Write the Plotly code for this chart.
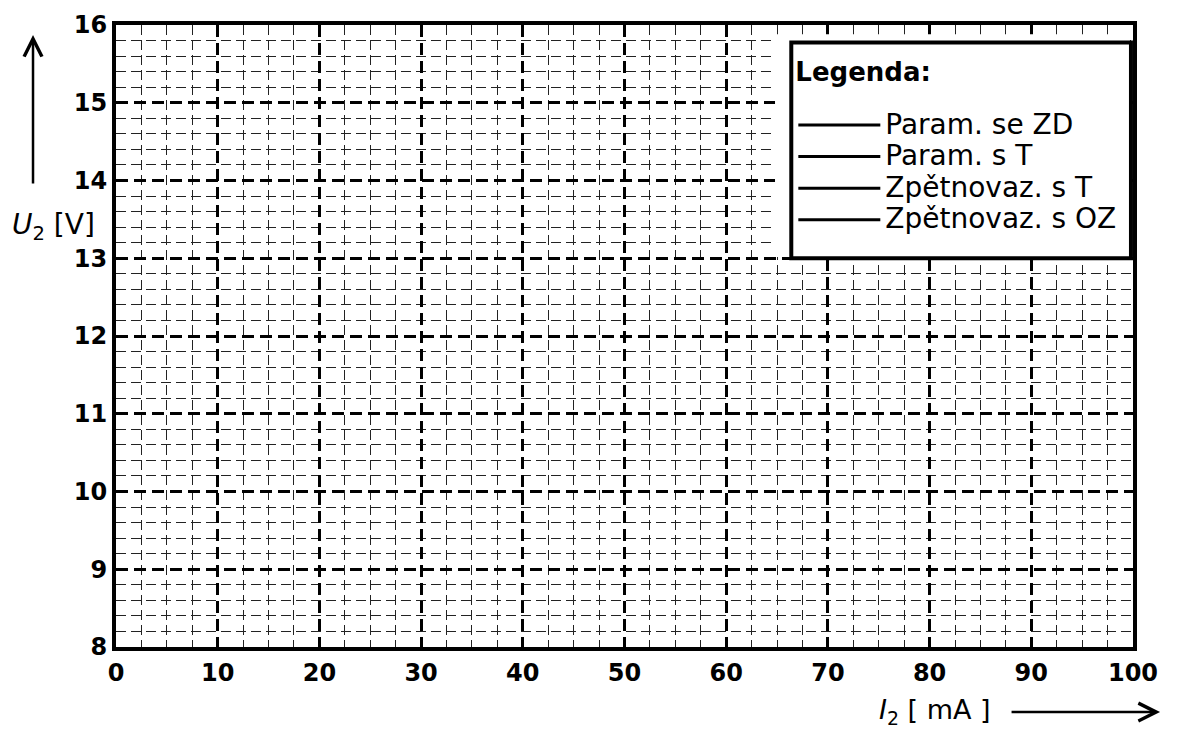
import plotly.graph_objects as go

# ---- data (empty measurement sheet) ----
x_range = [0, 100]          # I2 [mA]
y_range = [8, 16]           # U2 [V]
x_major_step = 10
x_minor_step = 2.5
y_major_step = 1
y_minor_step = 0.2
series_names = ["Param. se ZD", "Param. s T", "Zpětnovaz. s T", "Zpětnovaz. s OZ"]
series_x = [[None], [None], [None], [None]]   # no measured points yet
series_y = [[None], [None], [None], [None]]
legend_title = "Legenda:"
x_title = "<i>I</i><sub>2</sub> [ mA ]"
y_title = "<i>U</i><sub>2</sub> [V]"

FONT = "DejaVu Sans"

fig = go.Figure()
for name, xs, ys in zip(series_names, series_x, series_y):
    fig.add_trace(go.Scatter(x=xs, y=ys, mode="lines",
                             name='<span style="font-size:28px">' + name + '</span>',
                             line=dict(color="black", width=3)))

axis_common = dict(
    showline=True, linecolor="black", linewidth=4, mirror=True,
    zeroline=False, ticks="", automargin=False,
    showgrid=True, gridcolor="black", gridwidth=3, griddash="12px,6px",
    tickfont=dict(family=FONT, size=24, color="black", weight="bold"),
)

fig.update_xaxes(range=x_range, tick0=0, dtick=x_major_step,
                 minor=dict(dtick=x_minor_step, tick0=0, showgrid=True,
                            gridcolor="#222222", gridwidth=1, griddash="10px,5px"),
                 ticklabelstandoff=1, **axis_common)
fig.update_yaxes(range=y_range, tick0=8, dtick=y_major_step,
                 minor=dict(dtick=y_minor_step, tick0=8, showgrid=True,
                            gridcolor="#222222", gridwidth=1, griddash="10px,5px"),
                 ticklabelstandoff=0, **axis_common)

# white clearing behind the legend, and the legend frame
fig.add_shape(type="rect", xref="paper", yref="paper",
              x0=0.648, x1=0.997, y0=0.627, y1=0.985,
              fillcolor="white", line=dict(width=0), layer="above")
fig.add_shape(type="rect", xref="paper", yref="paper",
              x0=0.664, x1=0.998, y0=0.625, y1=0.972,
              fillcolor="white", line=dict(color="black", width=4), layer="above")

fig.update_layout(
    width=1174, height=725,
    margin=dict(l=108, r=49, t=17, b=86),
    paper_bgcolor="white", plot_bgcolor="white",
    font=dict(family=FONT, size=26, color="black"),
    showlegend=True,
    legend=dict(
        x=0.666, y=0.948, xanchor="left", yanchor="top",
        bgcolor="rgba(0,0,0,0)", borderwidth=0,
        font=dict(family=FONT, size=22, color="black"),
        title=dict(text='<span style="font-size:26px"><b>' + legend_title
                        + '</b></span><br> ',
                   font=dict(family=FONT, size=18, color="black")),
        itemwidth=82,
    ),
    annotations=[
        dict(text=y_title, xref="paper", yref="paper", x=-0.061, y=0.676,
             xanchor="center", yanchor="middle", showarrow=False,
             font=dict(family=FONT, size=28, color="black")),
        dict(text="", xref="paper", yref="paper", x=-0.0816, y=0.984,
             ax=0, ay=150, showarrow=True, arrowhead=5, arrowsize=1.4,
             arrowwidth=2.5, arrowcolor="black"),
        dict(text=x_title, xref="paper", yref="paper", x=0.805, y=-0.103,
             xanchor="center", yanchor="middle", showarrow=False,
             font=dict(family=FONT, size=27, color="black")),
        dict(text="", xref="paper", yref="paper", x=1.0266, y=-0.1047,
             ax=-150, ay=0, showarrow=True, arrowhead=5, arrowsize=1.4,
             arrowwidth=2.5, arrowcolor="black"),
    ],
)

fig.write_html("out.html")
